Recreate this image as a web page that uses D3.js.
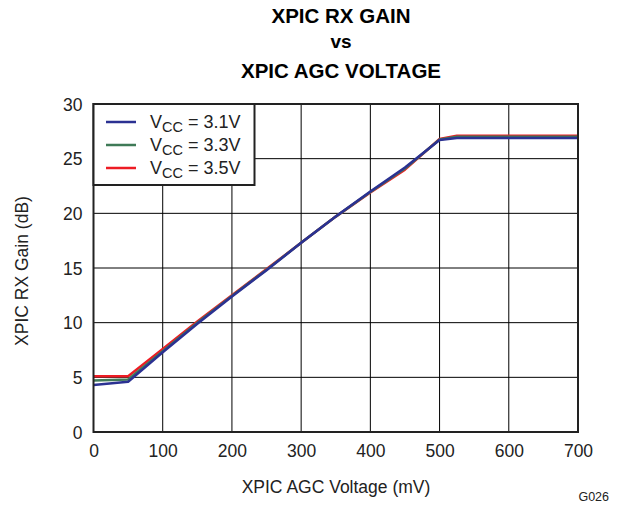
<!DOCTYPE html>
<html><head><meta charset="utf-8">
<script src="https://cdn.jsdelivr.net/npm/d3@7"></script>
<style>body{margin:0;background:#fff}svg{display:block;font-family:"Liberation Sans",Arial,sans-serif}</style>
</head><body>
<svg id="c" width="619" height="506"></svg>
<script>
const xVals = [0, 50, 100, 150, 200, 250, 300, 350, 400, 450, 500, 525, 700];
const gain31 = [4.3, 4.6, 7.3, 9.9, 12.4, 14.8, 17.3, 19.7, 22.0, 24.2, 26.7, 26.9, 26.9];
const gain33 = [4.7, 4.8, 7.4, 10.0, 12.45, 14.85, 17.3, 19.7, 21.95, 24.1, 26.75, 27.0, 27.0];
const gain35 = [5.1, 5.1, 7.6, 10.1, 12.5, 14.9, 17.3, 19.7, 21.9, 24.0, 26.8, 27.1, 27.1];
const seriesNames = ["3.1V", "3.3V", "3.5V"];
const seriesColors = ["#2b3192", "#3f7a57", "#ed1c24"];
const xTicks = [0, 100, 200, 300, 400, 500, 600, 700];
const yTicks = [0, 5, 10, 15, 20, 25, 30];

const svg = d3.select("#c");
const L = 93.5, R = 578, T = 104, B = 432;
const x = d3.scaleLinear().domain([0, 700]).range([L, R]);
const y = d3.scaleLinear().domain([0, 30]).range([B, T]);

// title
const title = ["XPIC RX GAIN", "vs", "XPIC AGC VOLTAGE"];
const tY = [23, 48, 78];
title.forEach((t, i) => svg.append("text").attr("x", 341).attr("y", tY[i]).attr("text-anchor", "middle")
  .attr("font-weight", "bold").attr("font-size", i === 1 ? 19 : 20.5).attr("fill", "#000").text(t));

// grid
const g = svg.append("g");
g.selectAll(".vx").data(xTicks.slice(1, -1)).join("line")
  .attr("x1", d => x(d)).attr("x2", d => x(d)).attr("y1", T).attr("y2", B)
  .attr("stroke", "#000").attr("stroke-width", 1);
g.selectAll(".hy").data(yTicks.slice(1, -1)).join("line")
  .attr("x1", L).attr("x2", R).attr("y1", d => y(d)).attr("y2", d => y(d))
  .attr("stroke", "#000").attr("stroke-width", 1);

// axes
const xAxis = d3.axisBottom(x).tickValues(xTicks).tickSize(0);
const yAxis = d3.axisLeft(y).tickValues(yTicks).tickSize(0).tickPadding(11);
const xa = svg.append("g").attr("transform", `translate(0,${B})`).call(xAxis);
const ya = svg.append("g").attr("transform", `translate(${L},0)`).call(yAxis);
[xa, ya].forEach(a => {
  a.select(".domain").remove();
  a.selectAll("text").attr("font-size", 17.5).attr("fill", "#222").attr("font-family", "Liberation Sans, Arial, sans-serif");
});
xa.selectAll("text").attr("y", 25).attr("dy", 0);
ya.selectAll("text").attr("dy", "0.36em");

// lines
const data = [gain35, gain33, gain31];
const cols = [seriesColors[2], seriesColors[1], seriesColors[0]];
const line = d3.line().x((d, i) => x(xVals[i])).y(d => y(d));
data.forEach((s, k) => svg.append("path").datum(s).attr("d", line)
  .attr("fill", "none").attr("stroke", cols[k]).attr("stroke-width", 2.5).attr("stroke-linejoin", "round"));

// frame
svg.append("rect").attr("x", L).attr("y", T).attr("width", R - L).attr("height", B - T)
  .attr("fill", "none").attr("stroke", "#222").attr("stroke-width", 2);

// legend
const lg = svg.append("g");
lg.append("rect").attr("x", L).attr("y", T).attr("width", 161).attr("height", 81)
  .attr("fill", "#fff").attr("stroke", "#222").attr("stroke-width", 2);
seriesNames.forEach((n, i) => {
  const yy = 122 + i * 23;
  lg.append("line").attr("x1", 106).attr("x2", 136).attr("y1", yy).attr("y2", yy)
    .attr("stroke", seriesColors[i]).attr("stroke-width", 2.5);
  const t = lg.append("text").attr("x", 150).attr("y", yy + 6).attr("font-size", 18).attr("fill", "#222");
  t.append("tspan").text("V");
  t.append("tspan").attr("font-size", 14.5).attr("dy", 4).text("CC");
  t.append("tspan").attr("dy", -4).text(" = " + n);
});

// axis titles
svg.append("text").attr("x", 336).attr("y", 493).attr("text-anchor", "middle").attr("font-size", 17.5)
  .attr("fill", "#222").text("XPIC AGC Voltage (mV)");
svg.append("text").attr("transform", "translate(28,271) rotate(-90)").attr("text-anchor", "middle")
  .attr("font-size", 17.5).attr("fill", "#222").text("XPIC RX Gain (dB)");
svg.append("text").attr("x", 609).attr("y", 501).attr("text-anchor", "end").attr("font-size", 12.5)
  .attr("fill", "#222").text("G026");
</script>
</body></html>
